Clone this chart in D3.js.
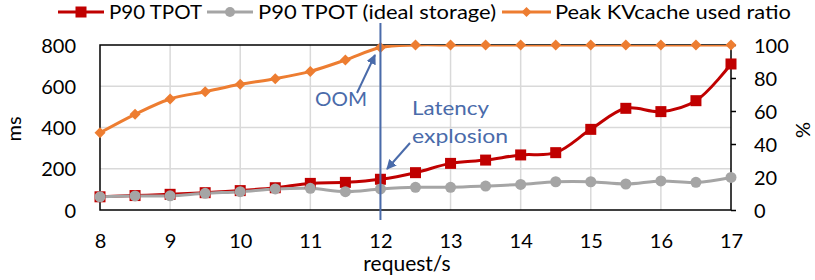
<!DOCTYPE html>
<html><head><meta charset="utf-8">
<script src="https://cdn.jsdelivr.net/npm/d3@7"></script>
<style>
body{margin:0;background:#fff;}
svg{display:block;font-family:Lato,"Open Sans",sans-serif;}
</style></head><body>
<svg id="c" width="815" height="280"></svg>
<script>
const requests = [8,8.5,9,9.5,10,10.5,11,11.5,12,12.5,13,13.5,14,14.5,15,15.5,16,16.5,17];
const p90Tpot = [64,70,76,84,94,108,129,134,149,181,226,242,267,278,391,493,477,530,708];
const p90TpotIdeal = [64,68,69,81,89,102,105,89,102,110,110,116,124,137,137,126,141,134,158];
const peakKvRatio = [46.8,58,67.3,71.7,76.2,79.6,84,90.9,98.5,100,100,100,100,100,100,100,100,100,100];
const xTicks = [8,9,10,11,12,13,14,15,16,17];
const leftTicks = [0,200,400,600,800];
const rightTicks = [0,20,40,60,80,100];
const seriesNames = ["P90 TPOT","P90 TPOT (ideal storage)","Peak KVcache used ratio"];

const svg = d3.select("#c");
const L=100,R=731,T=45,B=210;
const x = d3.scaleLinear().domain([8,17]).range([L,R]);
const yL = d3.scaleLinear().domain([0,800]).range([B,T]);
const yR = d3.scaleLinear().domain([0,100]).range([B,T]);
const blue="#4A6BAA", red="#C00000", gray="#A5A5A5", orange="#ED7D31";

const defs = svg.append("defs");
defs.append("clipPath").attr("id","plot").append("rect").attr("x",L-10).attr("y",T).attr("width",R-L+20).attr("height",B-T+10);
defs.append("marker").attr("id","ah").attr("viewBox","0 0 10 10").attr("refX",9).attr("refY",5)
  .attr("markerWidth",5).attr("markerHeight",5).attr("orient","auto")
  .append("path").attr("d","M0,0L10,5L0,10Z").attr("fill",blue);

// gridlines
svg.append("g").selectAll("line").data(leftTicks.filter(d=>d>0&&d<800)).join("line")
  .attr("x1",L).attr("x2",R).attr("y1",d=>yL(d)).attr("y2",d=>yL(d))
  .attr("stroke","#D9D9D9").attr("stroke-width",1.5);
svg.append("g").selectAll("line").data(xTicks.filter(d=>d>8&&d<17)).join("line")
  .attr("x1",d=>x(d)).attr("x2",d=>x(d)).attr("y1",T).attr("y2",B)
  .attr("stroke","#D9D9D9").attr("stroke-width",1.5);

// frame
svg.append("rect").attr("x",L).attr("y",T).attr("width",R-L).attr("height",B-T)
  .attr("fill","none").attr("stroke","#000").attr("stroke-width",1.5);

// axes
const fs=20;
const gl = svg.append("g").attr("transform",`translate(${L-24},0)`)
  .call(d3.axisLeft(yL).tickValues(leftTicks).tickSize(0).tickPadding(0));
gl.select(".domain").remove();
const gr = svg.append("g").attr("transform",`translate(${R},0)`)
  .call(d3.axisRight(yR).tickValues(rightTicks).tickSize(5).tickPadding(18));
gr.select(".domain").remove();
gr.selectAll("line").attr("stroke","#000").attr("stroke-width",1.5);
const gb = svg.append("g").attr("transform",`translate(0,${B+22})`)
  .call(d3.axisBottom(x).tickValues(xTicks).tickSize(0).tickPadding(0).tickFormat(d3.format("d")));
gb.select(".domain").remove();
svg.selectAll(".tick text").attr("font-family","Lato").attr("font-size",fs).attr("fill","#000");
gl.selectAll(".tick text").attr("dy","0.36em");
gr.selectAll(".tick text").attr("dy","0.36em");
gb.selectAll(".tick text").attr("dy","0.8em");

svg.append("text").attr("transform","translate(21,129) rotate(-90)").attr("text-anchor","middle")
  .attr("font-size",20).text("ms");
svg.append("text").attr("transform","translate(810,130) rotate(-90)").attr("text-anchor","middle")
  .attr("font-size",20).text("%");
svg.append("text").attr("x",407).attr("y",271).attr("text-anchor","middle")
  .attr("font-size",21).text("request/s");

// series
const clip = svg.append("g").attr("clip-path","url(#plot)");
const curve = d3.curveCatmullRom.alpha(0.5);
function drawLine(vals, ys, color){
  clip.append("path").datum(vals).attr("fill","none").attr("stroke",color).attr("stroke-width",3)
    .attr("stroke-linejoin","round")
    .attr("d", d3.line().x((d,i)=>x(requests[i])).y(d=>ys(d)).curve(curve));
}
drawLine(p90Tpot,yL,red);
svg.append("g").selectAll("rect").data(p90Tpot).join("rect")
  .attr("x",(d,i)=>x(requests[i])-5.5).attr("y",d=>yL(d)-5.5).attr("width",11).attr("height",11).attr("fill",red);
drawLine(p90TpotIdeal,yL,gray);
svg.append("g").selectAll("circle").data(p90TpotIdeal).join("circle")
  .attr("cx",(d,i)=>x(requests[i])).attr("cy",d=>yL(d)).attr("r",5.5).attr("fill",gray);
drawLine(peakKvRatio,yR,orange);
svg.append("g").selectAll("path").data(peakKvRatio).join("path")
  .attr("transform",(d,i)=>`translate(${x(requests[i])},${yR(d)})`)
  .attr("d","M0,-5.5L5.5,0L0,5.5L-5.5,0Z").attr("fill",orange);

// OOM vertical line
svg.append("line").attr("x1",x(12)).attr("x2",x(12)).attr("y1",23).attr("y2",220)
  .attr("stroke",blue).attr("stroke-width",2);

// annotations
svg.append("line").attr("x1",357).attr("y1",93).attr("x2",375).attr("y2",55)
  .attr("stroke",blue).attr("stroke-width",2).attr("marker-end","url(#ah)");
svg.append("line").attr("x1",410).attr("y1",143).attr("x2",387).attr("y2",169)
  .attr("stroke",blue).attr("stroke-width",2).attr("marker-end","url(#ah)");
svg.append("text").attr("x",315).attr("y",106).attr("fill",blue).attr("font-size",20)
  .attr("textLength",52).attr("lengthAdjust","spacingAndGlyphs").text("OOM");
svg.append("text").attr("x",412).attr("y",115).attr("fill",blue).attr("font-size",20)
  .attr("textLength",77).attr("lengthAdjust","spacingAndGlyphs").text("Latency");
svg.append("text").attr("x",412).attr("y",143).attr("fill",blue).attr("font-size",20)
  .attr("textLength",96).attr("lengthAdjust","spacingAndGlyphs").text("explosion");

// legend
const leg = [
  {name:seriesNames[0],color:red,x1:58,x2:104,tx:109,tw:93,m:"rect"},
  {name:seriesNames[1],color:gray,x1:207,x2:253,tx:258,tw:238,m:"circle"},
  {name:seriesNames[2],color:orange,x1:502,x2:551,tx:555,tw:236,m:"diamond"}
];
const ly=12;
const lg = svg.append("g");
leg.forEach(l=>{
  lg.append("line").attr("x1",l.x1).attr("x2",l.x2).attr("y1",ly).attr("y2",ly).attr("stroke",l.color).attr("stroke-width",3);
  const cx=(l.x1+l.x2)/2;
  if(l.m==="rect") lg.append("rect").attr("x",cx-5.5).attr("y",ly-5.5).attr("width",11).attr("height",11).attr("fill",l.color);
  else if(l.m==="circle") lg.append("circle").attr("cx",cx).attr("cy",ly).attr("r",5).attr("fill",l.color);
  else lg.append("path").attr("transform",`translate(${cx},${ly})`).attr("d","M0,-5L5,0L0,5L-5,0Z").attr("fill",l.color);
  lg.append("text").attr("x",l.tx).attr("y",ly+7).attr("font-size",20).attr("textLength",l.tw)
    .attr("lengthAdjust","spacingAndGlyphs").text(l.name);
});
</script>
</body></html>
